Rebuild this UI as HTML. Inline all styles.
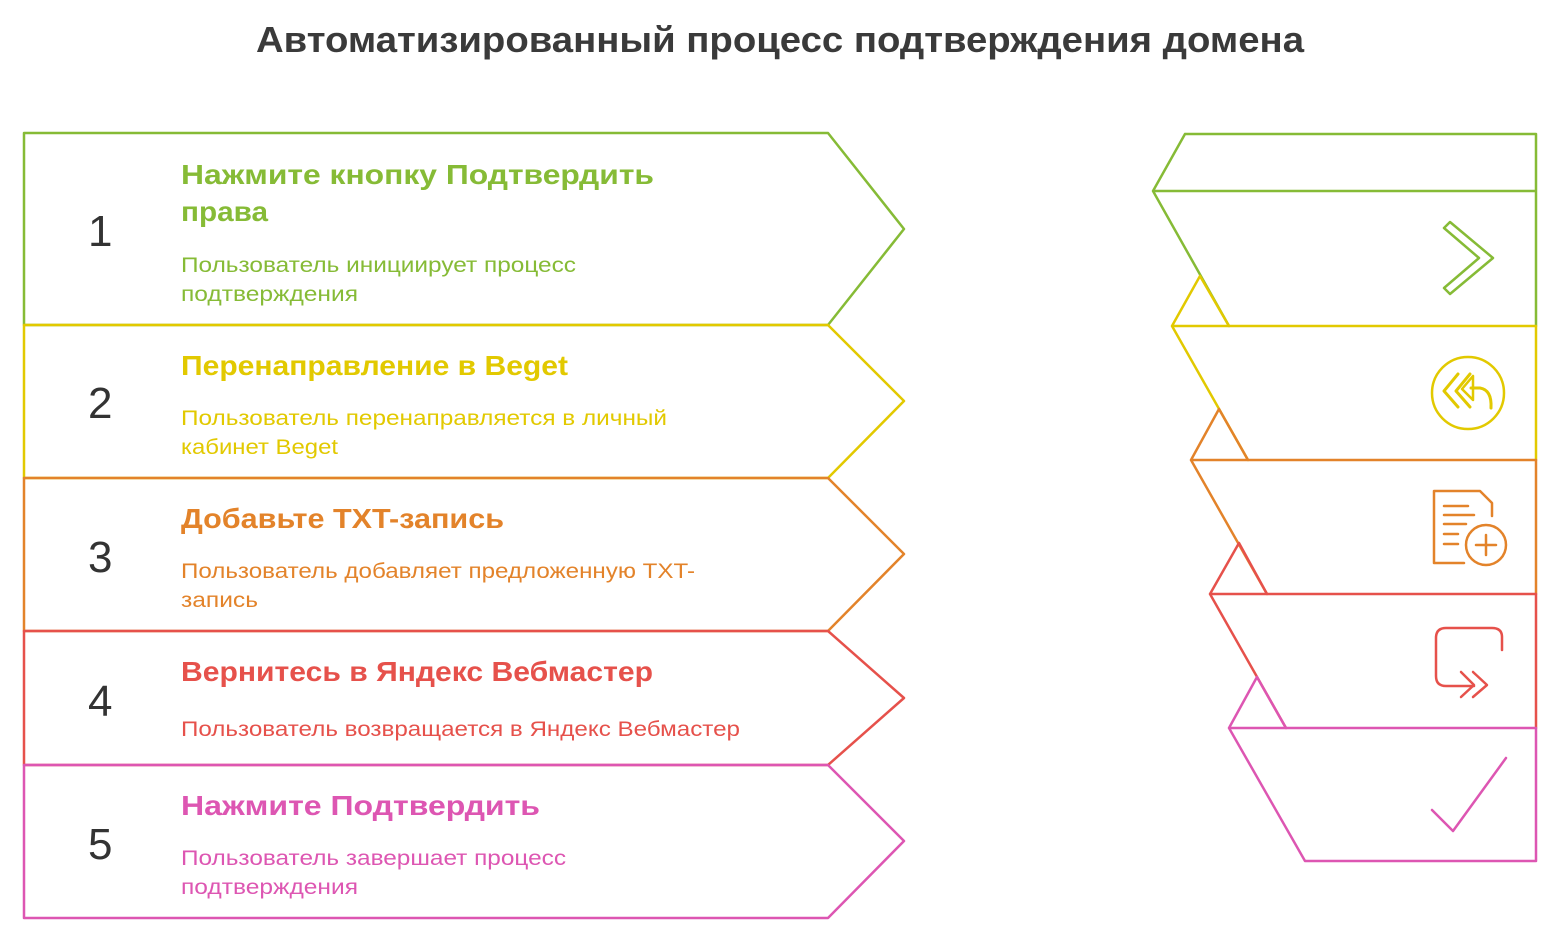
<!DOCTYPE html>
<html><head><meta charset="utf-8"><style>
html,body{margin:0;padding:0;background:#fff;}
svg{display:block;font-family:"Liberation Sans","DejaVu Sans",sans-serif;}
.h{font-weight:bold;font-size:28px;}
.d{font-size:21px;}
.n{font-size:44px;fill:#333;}
</style></head><body>
<svg width="1560" height="933" viewBox="0 0 1560 933" xmlns="http://www.w3.org/2000/svg" xml:space="preserve">
<text x="780" y="52" text-anchor="middle" font-weight="bold" font-size="36" fill="#3a3a3a" textLength="1048" lengthAdjust="spacingAndGlyphs">Автоматизированный процесс подтверждения домена</text>

<g fill="none" stroke-width="2.5" stroke-linejoin="round">
<polygon points="24,133 828,133 904,229 828,325 24,325" stroke="#86bb36"/>
<polygon points="24,325 828,325 904,401 828,478 24,478" stroke="#e2c900"/>
<polygon points="24,478 828,478 904,554 828,631 24,631" stroke="#e3832a"/>
<polygon points="24,631 828,631 904,698 828,765 24,765" stroke="#e6514b"/>
<polygon points="24,765 828,765 904,841 828,918 24,918" stroke="#dd56b2"/>
</g>

<g text-anchor="start">
<text class="n" x="88" y="246">1</text>
<text class="h" x="181" y="184" fill="#86bb36" textLength="473" lengthAdjust="spacingAndGlyphs">Нажмите кнопку  Подтвердить</text>
<text class="h" x="181" y="221" fill="#86bb36" textLength="87" lengthAdjust="spacingAndGlyphs">права</text>
<text class="d" x="181" y="272" fill="#86bb36" textLength="395" lengthAdjust="spacingAndGlyphs">Пользователь инициирует процесс</text>
<text class="d" x="181" y="301" fill="#86bb36" textLength="177" lengthAdjust="spacingAndGlyphs">подтверждения</text>

<text class="n" x="88" y="418">2</text>
<text class="h" x="181" y="375" fill="#e2c900" textLength="387" lengthAdjust="spacingAndGlyphs">Перенаправление в Beget</text>
<text class="d" x="181" y="425" fill="#e2c900" textLength="486" lengthAdjust="spacingAndGlyphs">Пользователь перенаправляется в личный</text>
<text class="d" x="181" y="454" fill="#e2c900" textLength="157" lengthAdjust="spacingAndGlyphs">кабинет Beget</text>

<text class="n" x="88" y="572">3</text>
<text class="h" x="181" y="528" fill="#e3832a" textLength="323" lengthAdjust="spacingAndGlyphs">Добавьте TXT-запись</text>
<text class="d" x="181" y="578" fill="#e3832a" textLength="514" lengthAdjust="spacingAndGlyphs">Пользователь добавляет предложенную TXT-</text>
<text class="d" x="181" y="607" fill="#e3832a" textLength="77" lengthAdjust="spacingAndGlyphs">запись</text>

<text class="n" x="88" y="716">4</text>
<text class="h" x="181" y="681" fill="#e6514b" textLength="472" lengthAdjust="spacingAndGlyphs">Вернитесь в Яндекс Вебмастер</text>
<text class="d" x="181" y="736" fill="#e6514b" textLength="559" lengthAdjust="spacingAndGlyphs">Пользователь возвращается в Яндекс Вебмастер</text>

<text class="n" x="88" y="859">5</text>
<text class="h" x="181" y="815" fill="#dd56b2" textLength="359" lengthAdjust="spacingAndGlyphs">Нажмите  Подтвердить</text>
<text class="d" x="181" y="865" fill="#dd56b2" textLength="385" lengthAdjust="spacingAndGlyphs">Пользователь завершает процесс</text>
<text class="d" x="181" y="894" fill="#dd56b2" textLength="177" lengthAdjust="spacingAndGlyphs">подтверждения</text>
</g>

<g fill="none" stroke-width="2.5" stroke-linejoin="round" stroke-linecap="round">
<path d="M1185,134 L1536,134 L1536,326 M1153,191 L1536,191 M1185,134 L1153,191 L1229,326" stroke="#86bb36"/>
<path d="M1200,276 L1172,326 L1536,326 L1536,460 M1200,276 L1229,326 M1172,326 L1248,460" stroke="#e2c900"/>
<path d="M1219,409 L1191,460 L1536,460 L1536,594 M1219,409 L1248,460 M1191,460 L1267,594" stroke="#e3832a"/>
<path d="M1239,543 L1210,594 L1536,594 L1536,728 M1239,543 L1267,594 M1210,594 L1286,728" stroke="#e6514b"/>
<path d="M1257,677 L1229,728 L1536,728 L1536,861 L1305,861 L1229,728 M1257,677 L1286,728" stroke="#dd56b2"/>

<!-- icons -->
<path d="M1444,228 L1450,222 L1493,258 L1450,294 L1444,288 L1479,258 Z" stroke="#86bb36" stroke-width="2.5"/>
<circle cx="1468" cy="393" r="36" stroke="#e2c900"/>
<path d="M1458,374 L1444,391 L1458,407 M1470,374 L1456,391 L1470,407" stroke="#e2c900" stroke-width="3"/>
<path d="M1471,388 L1480,388 Q1492,390 1491,408" stroke="#e2c900" stroke-width="3"/>
<path d="M1462,389 L1473,376 L1473,400 Z" stroke="#e2c900"/>
<path d="M1464,563 L1434,563 L1434,491 L1480,491 L1492,503 L1492,516" stroke="#e3832a"/>
<path d="M1444,506 L1468,506 M1444,515 L1474,515 M1444,524 L1466,524 M1444,534 L1458,534 M1444,544 L1458,544" stroke="#e3832a"/>
<circle cx="1486" cy="545" r="20" stroke="#e3832a"/>
<path d="M1486,535 L1486,555 M1476,545 L1496,545" stroke="#e3832a"/>
<path d="M1502,650 L1502,637 Q1502,628 1492,628 L1446,628 Q1436,628 1436,638 L1436,676 Q1436,686 1446,686 L1474,686" stroke="#e6514b"/>
<path d="M1461,672 L1474,685 L1461,697 M1473,672 L1487,685 L1473,697" stroke="#e6514b"/>
<path d="M1432,810 L1453,831 L1506,758" stroke="#dd56b2"/>
</g>
</svg>
</body></html>
